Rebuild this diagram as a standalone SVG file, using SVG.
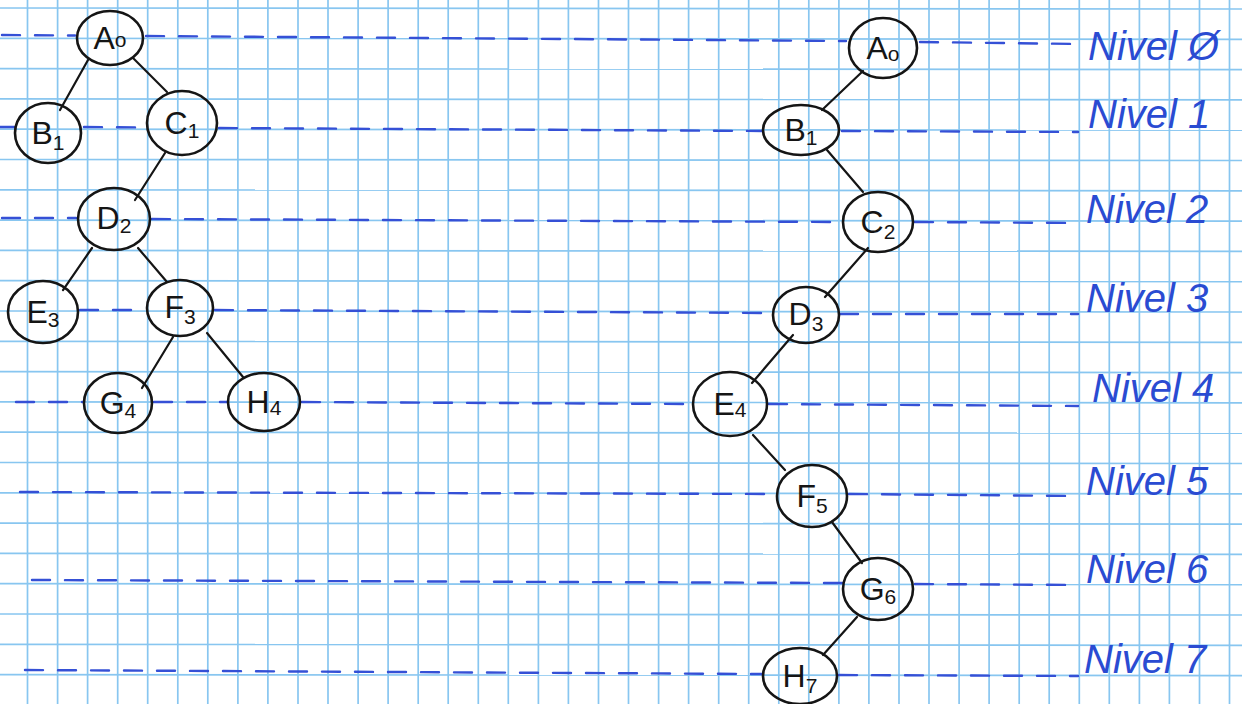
<svg xmlns="http://www.w3.org/2000/svg" width="1242" height="704" viewBox="0 0 1242 704">
<defs>
<style>
.g line{stroke:#88c6f0;stroke-width:1.7}
.lvl line{stroke:#3550d6;stroke-width:2.4;stroke-dasharray:18 15;stroke-linecap:round}
.node ellipse{fill:none;stroke:#151515;stroke-width:2.6}
.node text{font-family:"Liberation Sans",Arial,sans-serif;font-size:32px;fill:#151515;text-anchor:middle}
.node tspan{font-size:21px}
.edges line{stroke:#151515;stroke-width:2.2;stroke-linecap:round}
.lab{font-family:"Liberation Sans",Arial,sans-serif;font-style:italic;font-size:40px;fill:#2a4bd2}
</style>
</defs>
<rect width="1242" height="704" fill="#ffffff"/>
<g class="g" id="grid">
<line x1="27.5" y1="0" x2="27.5" y2="704"/><line x1="57.6" y1="0" x2="57.6" y2="704"/><line x1="87.6" y1="0" x2="87.6" y2="704"/><line x1="117.7" y1="0" x2="117.7" y2="704"/><line x1="147.7" y1="0" x2="147.7" y2="704"/><line x1="177.8" y1="0" x2="177.8" y2="704"/><line x1="207.8" y1="0" x2="207.8" y2="704"/><line x1="237.9" y1="0" x2="237.9" y2="704"/><line x1="267.9" y1="0" x2="267.9" y2="704"/><line x1="298" y1="0" x2="298" y2="704"/><line x1="328" y1="0" x2="328" y2="704"/><line x1="358.1" y1="0" x2="358.1" y2="704"/><line x1="388.1" y1="0" x2="388.1" y2="704"/><line x1="418.2" y1="0" x2="418.2" y2="704"/><line x1="448.2" y1="0" x2="448.2" y2="704"/><line x1="478.3" y1="0" x2="478.3" y2="704"/><line x1="508.3" y1="0" x2="508.3" y2="704"/><line x1="538.4" y1="0" x2="538.4" y2="704"/><line x1="568.4" y1="0" x2="568.4" y2="704"/><line x1="598.5" y1="0" x2="598.5" y2="704"/><line x1="628.5" y1="0" x2="628.5" y2="704"/><line x1="658.6" y1="0" x2="658.6" y2="704"/><line x1="688.6" y1="0" x2="688.6" y2="704"/><line x1="718.7" y1="0" x2="718.7" y2="704"/><line x1="748.7" y1="0" x2="748.7" y2="704"/><line x1="778.8" y1="0" x2="778.8" y2="704"/><line x1="808.8" y1="0" x2="808.8" y2="704"/><line x1="838.9" y1="0" x2="838.9" y2="704"/><line x1="868.9" y1="0" x2="868.9" y2="704"/><line x1="899" y1="0" x2="899" y2="704"/><line x1="929" y1="0" x2="929" y2="704"/><line x1="959.1" y1="0" x2="959.1" y2="704"/><line x1="989.1" y1="0" x2="989.1" y2="704"/><line x1="1019.2" y1="0" x2="1019.2" y2="704"/><line x1="1049.2" y1="0" x2="1049.2" y2="704"/><line x1="1079.3" y1="0" x2="1079.3" y2="704"/><line x1="1109.3" y1="0" x2="1109.3" y2="704"/><line x1="1139.4" y1="0" x2="1139.4" y2="704"/><line x1="1169.4" y1="0" x2="1169.4" y2="704"/><line x1="1199.5" y1="0" x2="1199.5" y2="704"/><line x1="1229.5" y1="0" x2="1229.5" y2="704"/>
<line x1="0" y1="8" x2="1242" y2="9"/><line x1="0" y1="38.3" x2="1242" y2="39.3"/><line x1="0" y1="68.6" x2="1242" y2="69.6"/><line x1="0" y1="98.9" x2="1242" y2="99.9"/><line x1="0" y1="129.2" x2="1242" y2="130.2"/><line x1="0" y1="159.5" x2="1242" y2="160.5"/><line x1="0" y1="189.8" x2="1242" y2="190.8"/><line x1="0" y1="220.1" x2="1242" y2="221.1"/><line x1="0" y1="250.4" x2="1242" y2="251.4"/><line x1="0" y1="280.7" x2="1242" y2="281.7"/><line x1="0" y1="311" x2="1242" y2="312"/><line x1="0" y1="341.3" x2="1242" y2="342.3"/><line x1="0" y1="371.6" x2="1242" y2="372.6"/><line x1="0" y1="401.9" x2="1242" y2="402.9"/><line x1="0" y1="432.2" x2="1242" y2="433.2"/><line x1="0" y1="462.5" x2="1242" y2="463.5"/><line x1="0" y1="492.8" x2="1242" y2="493.8"/><line x1="0" y1="523.1" x2="1242" y2="524.1"/><line x1="0" y1="553.4" x2="1242" y2="554.4"/><line x1="0" y1="583.7" x2="1242" y2="584.7"/><line x1="0" y1="614" x2="1242" y2="615"/><line x1="0" y1="644.3" x2="1242" y2="645.3"/><line x1="0" y1="674.6" x2="1242" y2="675.6"/>
</g>
<g class="lvl" id="levels">
<line x1="2" y1="35" x2="75" y2="35.5"/><line x1="146" y1="36" x2="846" y2="41"/><line x1="920" y1="42" x2="1078" y2="44"/>
<line x1="0" y1="127" x2="14" y2="127"/><line x1="84" y1="127" x2="146" y2="127.5"/><line x1="219" y1="128" x2="762" y2="131"/><line x1="842" y1="131" x2="1078" y2="132"/>
<line x1="2" y1="218" x2="76" y2="218"/><line x1="152" y1="219" x2="842" y2="222"/><line x1="915" y1="222" x2="1078" y2="223"/>
<line x1="80" y1="310" x2="146" y2="310"/><line x1="215" y1="310" x2="772" y2="313"/><line x1="840" y1="314" x2="1078" y2="314"/>
<line x1="16" y1="402" x2="83" y2="402"/><line x1="154" y1="402" x2="227" y2="402"/><line x1="302" y1="402" x2="692" y2="404"/><line x1="769" y1="404" x2="1078" y2="406"/>
<line x1="20" y1="492" x2="776" y2="494"/><line x1="849" y1="494" x2="1078" y2="496"/>
<line x1="32" y1="580" x2="842" y2="583"/><line x1="915" y1="584" x2="1078" y2="585"/>
<line x1="25" y1="670" x2="762" y2="674"/><line x1="839" y1="675" x2="1078" y2="676"/>
</g>
<g class="edges" id="connectors">
<line x1="88" y1="60" x2="60" y2="110"/><line x1="133" y1="58" x2="167" y2="92"/><line x1="165" y1="153" x2="135" y2="200"/><line x1="92" y1="248" x2="63" y2="290"/><line x1="138" y1="248" x2="167" y2="282"/><line x1="173" y1="337" x2="142" y2="388"/><line x1="207" y1="333" x2="243" y2="377"/>
<line x1="863" y1="71" x2="822" y2="110"/><line x1="827" y1="150" x2="863" y2="192"/><line x1="868" y1="248" x2="825" y2="297"/><line x1="793" y1="335" x2="752" y2="383"/><line x1="753" y1="435" x2="785" y2="470"/><line x1="832" y1="522" x2="862" y2="563"/><line x1="857" y1="617" x2="823" y2="655"/>
</g>
<g class="node" id="L_A0"><ellipse cx="110" cy="38" rx="33" ry="27"/><text x="110" y="49">A<tspan dy="-2">o</tspan></text></g>
<g class="node" id="L_B1"><ellipse cx="48" cy="133" rx="33" ry="30"/><text x="48" y="144">B<tspan dy="6">1</tspan></text></g>
<g class="node" id="L_C1"><ellipse cx="182" cy="123" rx="35" ry="32"/><text x="182" y="134">C<tspan dy="4">1</tspan></text></g>
<g class="node" id="L_D2"><ellipse cx="114" cy="219" rx="36" ry="31"/><text x="114" y="229">D<tspan dy="4">2</tspan></text></g>
<g class="node" id="L_E3"><ellipse cx="43" cy="312" rx="35" ry="31"/><text x="43" y="323">E<tspan dy="4">3</tspan></text></g>
<g class="node" id="L_F3"><ellipse cx="180" cy="308" rx="33" ry="28"/><text x="180" y="318">F<tspan dy="6">3</tspan></text></g>
<g class="node" id="L_G4"><ellipse cx="118" cy="403" rx="34" ry="30"/><text x="118" y="414">G<tspan dy="4">4</tspan></text></g>
<g class="node" id="L_H4"><ellipse cx="264" cy="402" rx="36" ry="29"/><text x="264" y="413">H<tspan dy="2">4</tspan></text></g>
<g class="node" id="R_A0"><ellipse cx="883" cy="48" rx="34" ry="30"/><text x="883" y="59">A<tspan dy="2">o</tspan></text></g>
<g class="node" id="R_B1"><ellipse cx="801" cy="130" rx="38" ry="25"/><text x="801" y="141">B<tspan dy="4">1</tspan></text></g>
<g class="node" id="R_C2"><ellipse cx="878" cy="222" rx="35" ry="30"/><text x="878" y="233">C<tspan dy="6">2</tspan></text></g>
<g class="node" id="R_D3"><ellipse cx="806" cy="315" rx="33" ry="28"/><text x="806" y="325">D<tspan dy="6">3</tspan></text></g>
<g class="node" id="R_E4"><ellipse cx="730" cy="404" rx="37" ry="32"/><text x="730" y="415">E<tspan dy="2">4</tspan></text></g>
<g class="node" id="R_F5"><ellipse cx="812" cy="496" rx="35" ry="31"/><text x="812" y="507">F<tspan dy="6">5</tspan></text></g>
<g class="node" id="R_G6"><ellipse cx="878" cy="589" rx="35" ry="31"/><text x="878" y="600">G<tspan dy="4">6</tspan></text></g>
<g class="node" id="R_H7"><ellipse cx="800" cy="676" rx="37" ry="28"/><text x="800" y="687">H<tspan dy="6">7</tspan></text></g>
<g id="labels">
<text class="lab" x="1088" y="60">Nivel Ø</text>
<text class="lab" x="1088" y="128">Nivel 1</text>
<text class="lab" x="1086" y="223">Nivel 2</text>
<text class="lab" x="1086" y="312">Nivel 3</text>
<text class="lab" x="1092" y="402">Nivel 4</text>
<text class="lab" x="1086" y="495">Nivel 5</text>
<text class="lab" x="1086" y="583">Nivel 6</text>
<text class="lab" x="1084" y="673">Nivel 7</text>
</g>
</svg>
